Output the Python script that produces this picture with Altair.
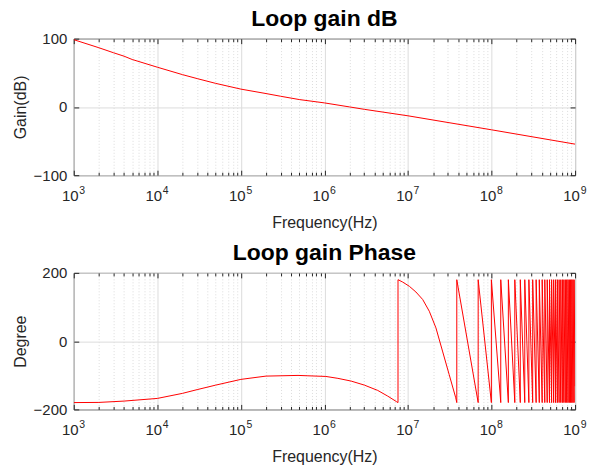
import altair as alt
import pandas as pd

# ---------------- data ----------------
gain_freq = [1e3, 2e3, 3e3, 4e3, 5e3, 1e4, 2e4, 3e4, 5e4, 1e5, 2e5, 3e5, 5e5,
             1e6, 2e6, 3e6, 1e7, 1e8, 1e9]
gain_db = [98.5, 86.7, 79.3, 74.3, 69.5, 58.2, 47.3, 41.5, 34.5, 26.1, 19.6, 15.6, 10.8,
           5.9, 0.0, -3.5, -13, -33.5, -54.5]

phase_smooth_freq = [1e3, 2e3, 4e3, 1e4, 2e4, 3e4, 5e4, 1e5, 2e5, 4.83e5, 6.35e5,
                     1.04e6, 1.45e6, 2.09e6, 3.01e6, 4.35e6, 5.72e6, 7.33e6, 7.6e6]
phase_smooth_deg = [-180, -179.5, -175.6, -167.8, -153, -142, -128.8, -112, -102.4, -100.4,
                    -101.5, -103.4, -109, -117, -128.8, -144.4, -161, -177.6, -180]
first_tooth_freq = [7.6e6, 8.65e6, 1.04e7, 1.245e7, 1.5e7, 1.8e7, 2.16e7, 2.59e7,
                    3.11e7, 3.73e7, 3.84e7]
first_tooth_deg = [180, 173, 160.6, 144, 122, 87.6, 39, -29, -97.5, -166, -180]
# frequencies (MHz) where the phase wraps from -180 to +180
wrap_mhz = [38.4, 69.2, 99.6, 129, 159, 190, 221, 250, 280, 311, 342, 373, 404, 434,
            464, 494, 524, 554, 584, 614, 644, 674, 704, 734, 764, 794, 824, 854, 884,
            914, 944, 974]
phase_end_freq = 1e9
phase_end_deg = -132

x_major = [1e3, 1e4, 1e5, 1e6, 1e7, 1e8, 1e9]
x_minor = [k * 10 ** d for d in range(3, 9) for k in range(2, 10)]
gain_ticks = [-100, 0, 100]
phase_ticks = [-200, 0, 200]

# ---------------- tables ----------------
df_gain = pd.DataFrame({"f": gain_freq, "v": gain_db})
df_gain["i"] = range(len(df_gain))

pf = list(phase_smooth_freq) + list(first_tooth_freq)
pv = list(phase_smooth_deg) + list(first_tooth_deg)
for j, w in enumerate(wrap_mhz):
    pf.append(w * 1e6)
    pv.append(180)
    if j + 1 < len(wrap_mhz):
        pf.append(wrap_mhz[j + 1] * 1e6)
        pv.append(-180)
pf.append(phase_end_freq)
pv.append(phase_end_deg)
df_phase = pd.DataFrame({"f": pf, "v": pv})
df_phase["i"] = range(len(df_phase))

W, H = 503, 137
xticks = sorted(x_major + x_minor)
MAJ = "abs(log(datum.value)/LN10 - round(log(datum.value)/LN10)) < 1e-6"
base_expr = f"({MAJ}) ? '10' : ''"
exp_expr = f"({MAJ}) ? '' + round(log(datum.value)/LN10) : ''"
grid_dash = {"condition": {"test": MAJ, "value": []}, "value": [1, 2]}
tick_size = {"condition": {"test": MAJ, "value": 5}, "value": 3}
GRID = "#dcdcdc"
INK = "#262626"


def panel(df, ydom, yvals, ytitle, title):
    xscale = alt.Scale(type="log", domain=[1e3, 1e9], nice=False)
    yscale = alt.Scale(domain=ydom, nice=False, zero=False)
    main = alt.Chart(df).mark_line(color="#ff0000", strokeWidth=1, clip=True).encode(
        x=alt.X("f:Q", scale=xscale, axis=alt.Axis(
            values=xticks, labelExpr=base_expr, grid=True, gridDash=grid_dash,
            gridColor=GRID, tickSize=0, domain=False, labelPadding=13, labelOffset=-4,
            title="Frequency(Hz)", titlePadding=11, labelFlush=False)),
        y=alt.Y("v:Q", scale=yscale, axis=alt.Axis(
            values=yvals, grid=True, gridColor=GRID, tickSize=0, domain=False,
            labelPadding=7, title=ytitle, titlePadding=5)),
        order="i:Q",
    )
    t1 = alt.Chart(df).mark_line(opacity=0).encode(
        x=alt.X("f:Q", scale=xscale, axis=alt.Axis(
            orient="top", offset=-H, values=xticks, labels=False, title=None,
            grid=False, domain=False, tickSize=tick_size, tickColor=INK)),
        y=alt.Y("v:Q", scale=yscale, axis=alt.Axis(
            orient="right", offset=-W, values=yvals, labels=False, title=None,
            grid=False, domain=False, tickSize=5, tickColor=INK)),
        order="i:Q",
    )
    t2 = alt.Chart(df).mark_line(opacity=0).encode(
        x=alt.X("f:Q", scale=xscale, axis=alt.Axis(
            orient="bottom", offset=-H, values=xticks, labels=False, title=None,
            grid=False, domain=False, tickSize=tick_size, tickColor=INK)),
        y=alt.Y("v:Q", scale=yscale, axis=alt.Axis(
            orient="left", offset=-W, values=yvals, labels=False, title=None,
            grid=False, domain=False, tickSize=5, tickColor=INK)),
        order="i:Q",
    )
    # exponent labels (superscripts) of the decade ticks
    t3 = alt.Chart(df).mark_line(opacity=0).encode(
        x=alt.X("f:Q", scale=xscale, axis=alt.Axis(
            orient="bottom", values=x_major, labelExpr=exp_expr, title=None,
            grid=False, domain=False, ticks=False, labelPadding=10, labelFontSize=10.5,
            labelOffset=8, labelFlush=False)),
        y=alt.Y("v:Q", scale=yscale, axis=None),
        order="i:Q",
    )
    return alt.layer(main, t1, t2, t3).resolve_axis(x="independent", y="independent").properties(
        width=W, height=H,
        title=alt.TitleParams(title, fontSize=23, font="Liberation Sans", fontWeight="bold",
                              color="black", offset=1, anchor="middle"),
    )


top = panel(df_gain, [-100, 100], gain_ticks, "Gain(dB)", "Loop gain dB")
bottom = panel(df_phase, [-200, 200], phase_ticks, "Degree", "Loop gain Phase")

chart = alt.vconcat(top, bottom, spacing=10).properties(
    padding={"left": 11, "right": 10, "top": 6, "bottom": 4},
    background="white",
).configure_view(stroke=INK, strokeWidth=1).configure_axis(
    labelFont="Liberation Sans", labelFontSize=15, labelColor=INK,
    titleFont="Liberation Sans", titleFontSize=16, titleFontWeight="normal", titleColor=INK,
)

chart.save("out.html", embed_options={"renderer": "svg", "actions": False})
